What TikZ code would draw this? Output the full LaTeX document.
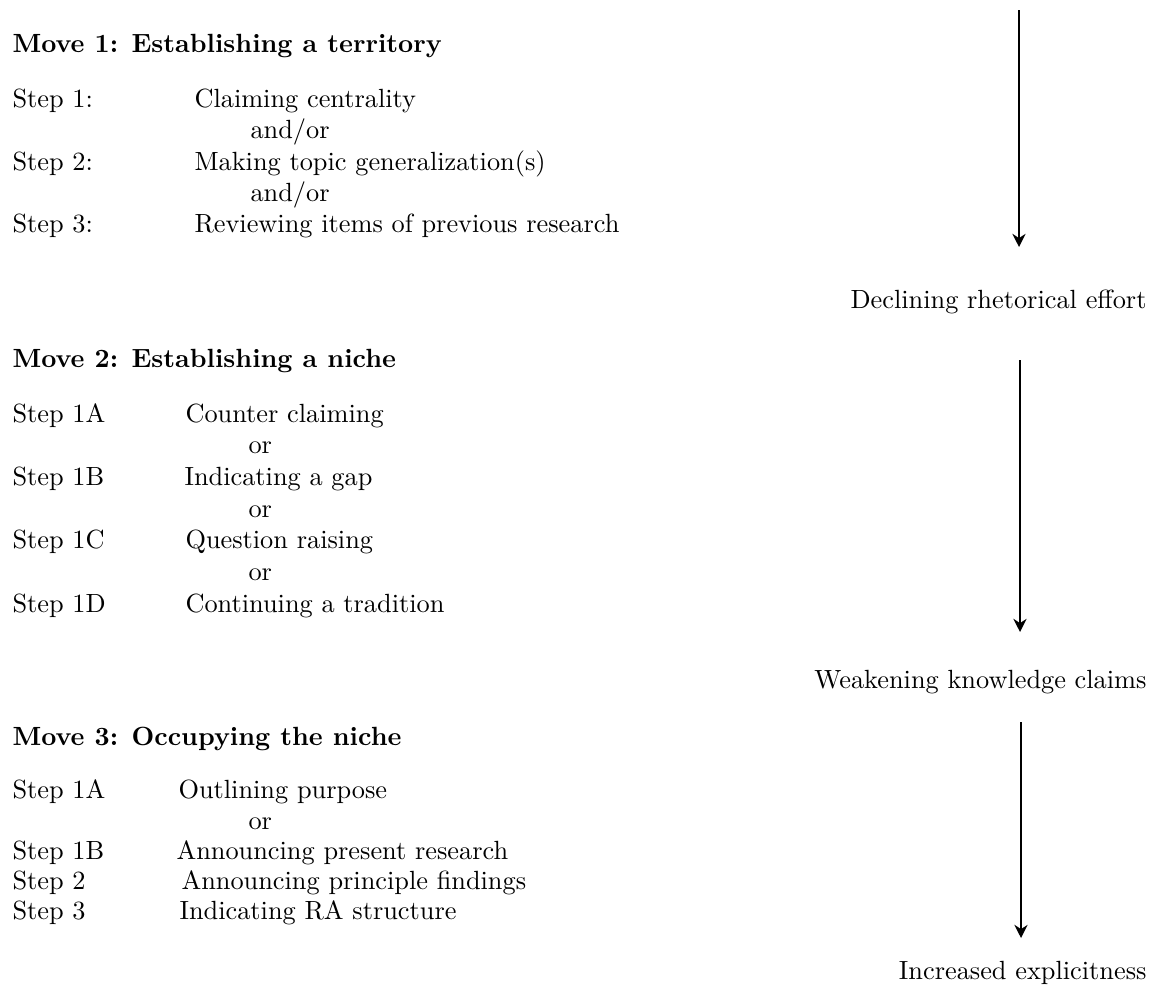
\documentclass[tikz,border=0pt]{standalone}
\usetikzlibrary{arrows.meta}
\begin{document}
\begin{tikzpicture}[x=0.38pt,y=-0.38pt,
  txt/.style={inner sep=0pt, anchor=base west, font=\fontsize{10}{12}\selectfont},
  head/.style={inner sep=0pt, anchor=base west, font=\fontsize{10}{12}\selectfont\bfseries},
  lbl/.style={inner sep=0pt, anchor=east, font=\fontsize{10}{12}\selectfont},
  arr/.style={line width=0.75pt, -{Stealth[length=5pt,width=5pt]}}]
\useasboundingbox (0,0) rectangle (1158,984);
% Move 1
\node[head] (m1) at (12,52) {Move 1: Establishing a territory};
\node[txt] (s11) at (12,107) {Step 1:};
\node[txt] (c11) at (194,107) {Claiming centrality};
\node[txt] (o11) at (250,138.5) {and/or};
\node[txt] (s12) at (12,170) {Step 2:};
\node[txt] (c12) at (194,170) {Making topic generalization(s)};
\node[txt] (o12) at (250,201) {and/or};
\node[txt] (s13) at (12,232) {Step 3:};
\node[txt] (c13) at (194,232) {Reviewing items of previous research};
% Move 2
\node[head] (m2) at (12,367) {Move 2: Establishing a niche};
\node[txt] (s21) at (12,422) {Step 1A};
\node[txt] (c21) at (185,422) {Counter claiming};
\node[txt] (o21) at (248,453.6) {or};
\node[txt] (s22) at (12,485.3) {Step 1B};
\node[txt] (c22) at (184,485.3) {Indicating a gap};
\node[txt] (o22) at (248,517) {or};
\node[txt] (s23) at (12,548.6) {Step 1C};
\node[txt] (c23) at (185,548.6) {Question raising};
\node[txt] (o23) at (248,580.3) {or};
\node[txt] (s24) at (12,612) {Step 1D};
\node[txt] (c24) at (185,612) {Continuing a tradition};
% Move 3
\node[head] (m3) at (12,745) {Move 3: Occupying the niche};
\node[txt] (s31) at (12,798) {Step 1A};
\node[txt] (c31) at (178,798) {Outlining purpose};
\node[txt] (o31) at (248,829) {or};
\node[txt] (s32) at (12,859) {Step 1B};
\node[txt] (c32) at (176,859) {Announcing present research};
\node[txt] (s33) at (12,889) {Step 2};
\node[txt] (c33) at (181,889) {Announcing principle findings};
\node[txt] (s34) at (12,919) {Step 3};
\node[txt] (c34) at (179,919) {Indicating RA structure};
% right column
\coordinate (a1s) at (1019,10);
\coordinate (a1e) at (1019,247);
\draw[arr] (a1s) -- (a1e);
\node[lbl] (l1) at (1147,302) {Declining rhetorical effort};
\coordinate (a2s) at (1020,360);
\coordinate (a2e) at (1020,632);
\draw[arr] (a2s) -- (a2e);
\node[lbl] (l2) at (1147,682) {Weakening knowledge claims};
\coordinate (a3s) at (1021,722);
\coordinate (a3e) at (1021,938);
\draw[arr] (a3s) -- (a3e);
\node[lbl] (l3) at (1147,973) {Increased explicitness};
\end{tikzpicture}
\end{document}
